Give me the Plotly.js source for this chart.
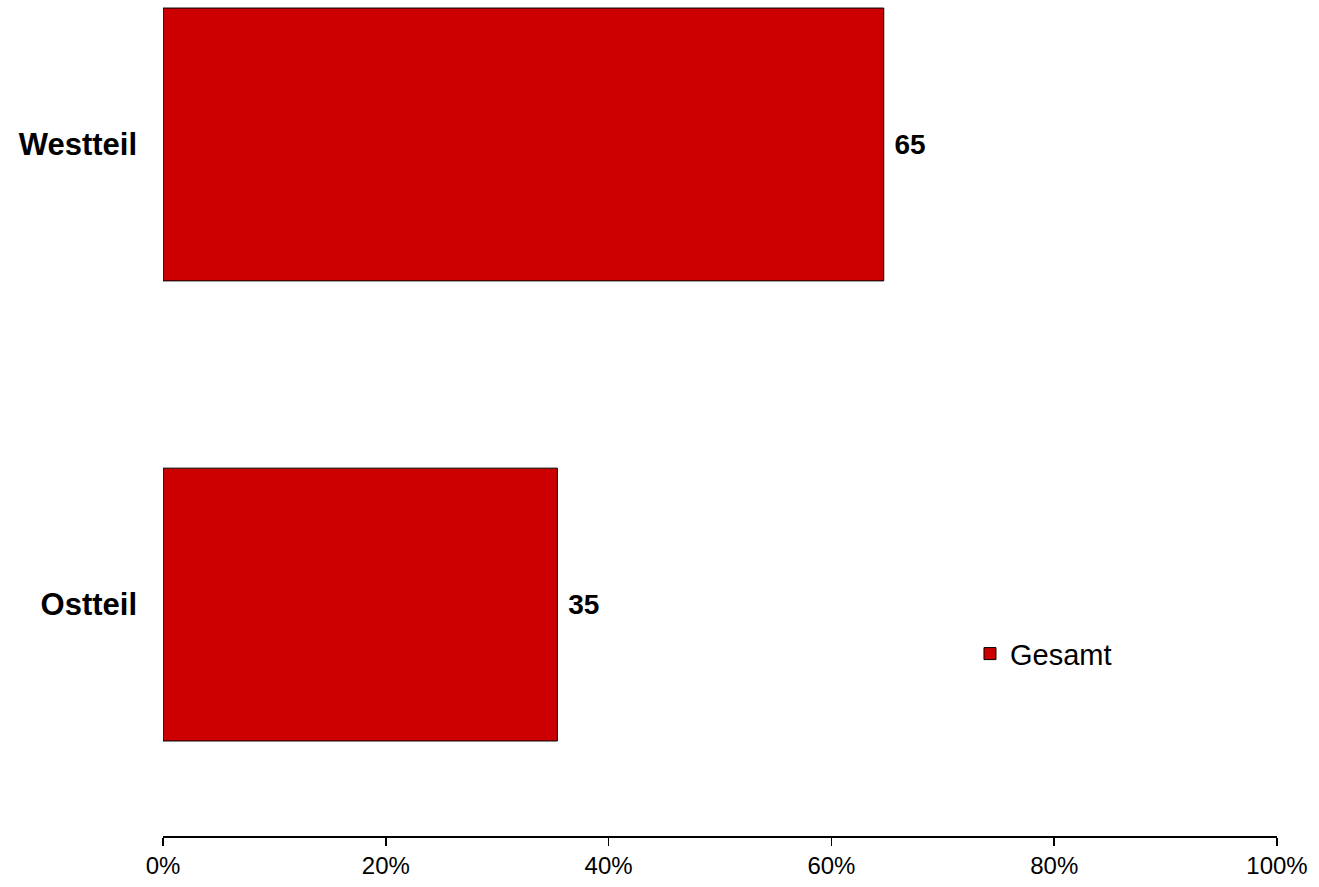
<!DOCTYPE html>
<html>
<head>
<meta charset="utf-8">
<script src="https://cdn.plot.ly/plotly-3.0.1.min.js"></script>
<style>
  html, body { margin: 0; padding: 0; background: #ffffff; }
  #chart { width: 1319px; height: 887px; }
</style>
</head>
<body>
<div id="chart"></div>
<script>
// Data
const categories = ['Ostteil', 'Westteil'];
const values = [35.4, 64.7];
const valueLabels = ['35', '65'];
const seriesName = 'Gesamt';
const xTickVals = [0, 20, 40, 60, 80, 100];
const xTickText = ['0%', '20%', '40%', '60%', '80%', '100%'];

const FONT = 'Liberation Sans, Arial, sans-serif';

const trace = {
  type: 'bar',
  orientation: 'h',
  name: seriesName,
  y: categories,
  x: values,
  text: valueLabels.map(v => '\u00a0' + v),
  textposition: 'outside',
  cliponaxis: false,
  constraintext: 'none',
  textfont: { family: FONT, size: 28, color: '#000000', weight: 'bold' },
  marker: { color: '#CC0000', line: { color: '#000000', width: 1 } },
  width: 0.593,
  showlegend: true,
  hoverinfo: 'none'
};

const layout = {
  width: 1319,
  height: 887,
  paper_bgcolor: '#ffffff',
  plot_bgcolor: '#ffffff',
  margin: { l: 163, r: 42, t: 0, b: 51 },
  showlegend: true,
  legend: {
    x: 0.7244, xanchor: 'left',
    y: 0.218, yanchor: 'middle',
    font: { family: FONT, size: 29, color: '#000000' },
    bgcolor: 'rgba(0,0,0,0)'
  },
  xaxis: {
    range: [0, 100],
    tickvals: xTickVals,
    ticktext: xTickText,
    ticks: 'outside',
    ticklen: 8,
    tickwidth: 1.5,
    tickcolor: '#000000',
    showline: true,
    linecolor: '#000000',
    linewidth: 1.5,
    showgrid: false,
    zeroline: false,
    tickfont: { family: FONT, size: 24, color: '#000000' },
    fixedrange: true
  },
  yaxis: {
    type: 'category',
    range: [-0.503, 1.314],
    showline: false,
    showgrid: false,
    zeroline: false,
    ticks: '',
    ticklabelstandoff: 25,
    tickfont: { family: FONT, size: 31, color: '#000000', weight: 'bold' },
    fixedrange: true
  }
};

Plotly.newPlot('chart', [trace], layout, { displayModeBar: false, staticPlot: true });
</script>
</body>
</html>
